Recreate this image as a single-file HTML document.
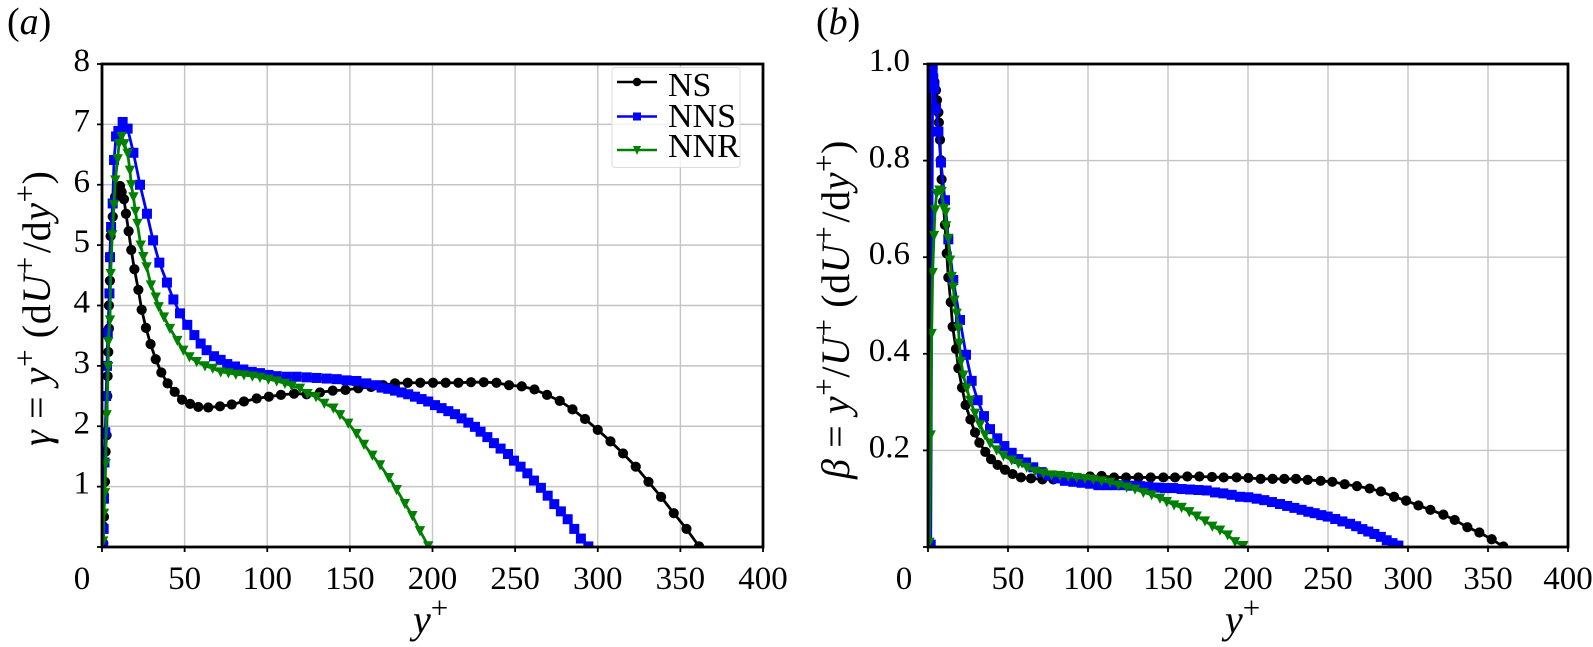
<!DOCTYPE html>
<html lang="en">
<head>
<meta charset="utf-8">
<title>Diagnostic functions gamma and beta versus y+</title>
<style>
html,body{margin:0;padding:0;background:#fff;width:1593px;height:647px;overflow:hidden}
svg{display:block}
text{font-family:"Liberation Serif",serif;fill:#000}
.it{font-style:italic}
</style>
</head>
<body>
<svg id="fig" width="1593" height="647" viewBox="0 0 1593 647" xmlns="http://www.w3.org/2000/svg">
<rect width="1593" height="647" fill="#fff"/>
<defs>
<clipPath id="clipA"><rect x="102" y="64" width="661" height="483"/></clipPath>
<clipPath id="clipB"><rect x="928" y="64" width="640" height="483"/></clipPath>
</defs>
<g id="panelA"></g>
<g id="panelB"></g>

<text x="7" y="34" font-size="38">(<tspan class="it">a</tspan>)</text>
<text x="816" y="34" font-size="38">(<tspan class="it">b</tspan>)</text>

<text transform="translate(50,446) rotate(-90)" font-size="40" letter-spacing="0.6"><tspan class="it">γ</tspan> = <tspan class="it">y</tspan><tspan font-size="31" dy="-15">+</tspan><tspan dy="15"> (d</tspan><tspan class="it">U</tspan><tspan font-size="31" dy="-15">+</tspan><tspan dy="15" dx="3">/d</tspan><tspan class="it">y</tspan><tspan font-size="31" dy="-15">+</tspan><tspan dy="15">)</tspan></text>
<text transform="translate(849,479) rotate(-90)" font-size="40" letter-spacing="0.6"><tspan class="it">β</tspan> = <tspan class="it">y</tspan><tspan font-size="31" dy="-15">+</tspan><tspan dy="15">/</tspan><tspan class="it">U</tspan><tspan font-size="31" dy="-15">+</tspan><tspan dy="15"> (d</tspan><tspan class="it">U</tspan><tspan font-size="31" dy="-15">+</tspan><tspan dy="15" dx="3">/d</tspan><tspan class="it">y</tspan><tspan font-size="31" dy="-15">+</tspan><tspan dy="15">)</tspan></text>
<text x="413" y="633" font-size="40"><tspan class="it">y</tspan><tspan font-size="31" dy="-15">+</tspan></text>
<text x="1225" y="633" font-size="40"><tspan class="it">y</tspan><tspan font-size="31" dy="-15">+</tspan></text>

<g id="legend">
<rect x="612" y="67.5" width="128" height="100" rx="3" fill="#fff" fill-opacity="0.8" stroke="#dcdcdc" stroke-width="1"/>
<g>
<line x1="617" y1="82" x2="657" y2="82" stroke="#000" stroke-width="2.4"/><circle cx="637" cy="82" r="4.2" fill="#000"/>
<text x="668" y="96" font-size="34">NS</text></g>
<g>
<line x1="617" y1="116.5" x2="657" y2="116.5" stroke="#0000ff" stroke-width="2.4"/><rect x="633" y="112.5" width="8" height="8" fill="#0000ff"/>
<text x="668" y="127" font-size="34">NNS</text></g>
<g>
<line x1="617" y1="150" x2="657" y2="150" stroke="#008000" stroke-width="2.4"/><polygon points="633,146 641,146 637,155" fill="#008000"/>
<text x="668" y="157" font-size="34">NNR</text></g>
</g>
</svg>
<script>
// shared axis ticks
const xTicks = [0, 50, 100, 150, 200, 250, 300, 350, 400];
const yTicksA = [1, 2, 3, 4, 5, 6, 7, 8];
const yTicksB = [0.2, 0.4, 0.6, 0.8, 1.0];
const yTickLabelsA = ['1', '2', '3', '4', '5', '6', '7', '8'];
const yTickLabelsB = ['0.2', '0.4', '0.6', '0.8', '1.0'];

// panel (a): gamma
const gammaNSx = [0.8,0.8,1.2,1.2,1.8,2.2,2.8,3.2,3.4,3.8,4.2,4.2,4.8,4.8,5.2,6.5,7.9,9.3,10.9,11.9,13.3,14.5,16.1,17.7,19.6,22,24,26.6,29.4,32.5,35.9,39.7,44,48.4,53.3,58.3,64.3,71.4,78.5,85.9,93.6,101,108.3,116.2,123.8,131.9,139.6,147.3,155.1,162.8,170.2,177.3,185,192.6,200.3,208,215.7,223.3,231,238.7,246.3,254,261.7,269.3,277,284.7,292.3,300,307.7,315.3,323,330.7,338.3,346,353.7,361.3];
const gammaNSy = [0.06,0.34,0.5,0.86,1.08,1.58,1.85,2.5,2.83,3.23,3.62,4.0,4.41,4.81,5.15,5.47,5.8,5.94,5.98,5.88,5.76,5.52,5.23,4.92,4.6,4.26,3.93,3.63,3.36,3.11,2.89,2.71,2.57,2.44,2.37,2.32,2.31,2.33,2.36,2.41,2.46,2.49,2.52,2.54,2.53,2.56,2.59,2.6,2.63,2.65,2.68,2.71,2.72,2.72,2.72,2.72,2.72,2.73,2.73,2.72,2.68,2.66,2.61,2.52,2.42,2.28,2.12,1.94,1.75,1.55,1.33,1.08,0.83,0.56,0.3,0.01];
const gammaNNSx = [0.6,1,1.2,1.5,2,2.5,3,3.5,4.5,4.84,5.5,6.46,7.3,8.5,9.9,12.5,15.5,19,23,27.2,30.9,34.7,39.3,43.2,47.2,51.6,55.9,59.7,63.3,67.8,71.8,75.8,80.5,85.5,90.6,95.6,100.7,105.7,111.8,117.8,123.9,129.9,136,142,148,154,160,166,169.2,173.2,177.3,181.3,185.3,189.4,193.4,197.4,201.5,205.5,209.6,213.6,217.6,221.7,225.7,229.1,233.2,237.2,241.2,245.7,249.3,253.3,257.4,261.4,265.6,269.7,273.7,277.7,281.8,285.8,289.8,294.3];
const gammaNNSy = [0.02,0.3,0.8,1.4,1.9,2.5,3.0,3.55,4.2,4.8,5.3,5.69,6.41,6.8,6.89,7.04,6.93,6.53,6.0,5.52,5.08,4.71,4.38,4.1,3.87,3.68,3.51,3.37,3.26,3.16,3.1,3.03,2.99,2.94,2.9,2.88,2.85,2.83,2.82,2.82,2.81,2.8,2.79,2.78,2.76,2.75,2.71,2.68,2.64,2.62,2.59,2.56,2.53,2.49,2.45,2.41,2.35,2.3,2.25,2.2,2.13,2.06,1.99,1.91,1.82,1.72,1.63,1.54,1.43,1.33,1.22,1.1,0.98,0.85,0.71,0.59,0.46,0.3,0.14,0.01];
const gammaNNRx = [0.7,1.2,1.8,2.2,2.8,3.8,3.8,4.84,5.25,6.2,7.3,8.07,9.5,10.3,11.9,13.5,15.5,16.9,17.7,19,20.2,21.4,23.4,25,27,29.6,32.5,34.3,37.5,41.1,45.6,49.2,52.9,57.3,62.3,67,71.8,76.5,81,85.9,91,95.6,100.7,105.7,110.7,114.8,119.8,124.3,129.5,134.5,140,144,149,154,158.5,163.6,168.2,173.6,178.3,183.3,187.8,192.4,197.4];
const gammaNNRy = [0.1,0.56,0.9,1.38,2.19,2.99,3.4,3.76,4.53,5.17,5.67,6.08,6.43,6.68,6.8,6.68,6.52,6.24,6.0,5.8,5.56,5.36,5.0,4.81,4.64,4.34,4.14,3.98,3.81,3.62,3.42,3.26,3.15,3.07,3.0,2.96,2.9,2.885,2.86,2.85,2.83,2.81,2.78,2.75,2.71,2.67,2.63,2.54,2.49,2.38,2.3,2.19,2.05,1.88,1.7,1.52,1.36,1.15,0.95,0.72,0.52,0.27,0.02];

// panel (b): beta
const betaNSx = [0.5,1.2,2,2.9,4,5,5.6,6.5,6.8,7.5,7.9,8.5,9.4,10.6,11.7,12.7,14.2,15.4,17.5,19,21.25,23.5,26.5,29.4,32.1,35.8,39.4,43.5,48.1,52.9,58.1,64.4,71.5,78.3,86,93.5,101.3,108.5,116.3,123.8,131.5,139.2,147.1,154.4,162.1,169.6,177.5,184.8,192.9,200.2,207.9,215.4,222.7,230,237.3,245.4,252.7,260.4,268.1,276,283.1,291.3,298.8,306.5,314,322.1,329.2,337.1,344.6,352.3,359.6];
const betaNSy = [0.01,1.0,0.998,0.991,0.963,0.946,0.925,0.9,0.879,0.843,0.801,0.761,0.715,0.667,0.608,0.558,0.507,0.456,0.41,0.37,0.33,0.294,0.264,0.237,0.216,0.197,0.182,0.17,0.16,0.151,0.144,0.142,0.14,0.14,0.141,0.142,0.146,0.147,0.144,0.144,0.144,0.144,0.144,0.144,0.146,0.146,0.145,0.144,0.144,0.143,0.141,0.141,0.141,0.141,0.139,0.137,0.135,0.13,0.126,0.121,0.115,0.104,0.096,0.086,0.077,0.067,0.056,0.041,0.03,0.016,0.001];
const betaNNSx = [1.7,2.9,3.3,4,5,6.5,8.1,10.6,12.7,15.8,20,23.75,27.3,31,35,38.75,43.3,47.7,52.3,56.5,61.3,65.8,71,75.2,80.4,85.6,90.8,96,101.3,106.5,111.7,116.9,122.1,127.3,132.5,137.7,142.9,148.1,153.3,158.5,163.8,169,174.2,179.4,184.6,189.8,195,200.2,205.4,210.2,215,220,224.5,229,233.5,237.7,241.7,245.8,249.8,254.5,259,263.8,267.6,271.5,275.2,279,283,286.7,290.3,294];
const betaNNSy = [0.005,0.988,0.97,0.95,0.908,0.86,0.796,0.718,0.637,0.553,0.47,0.398,0.344,0.304,0.271,0.244,0.225,0.209,0.195,0.182,0.175,0.165,0.155,0.148,0.142,0.137,0.135,0.133,0.131,0.128,0.128,0.128,0.128,0.127,0.126,0.125,0.123,0.122,0.122,0.12,0.119,0.118,0.117,0.113,0.111,0.108,0.104,0.103,0.1,0.097,0.093,0.089,0.085,0.081,0.077,0.073,0.07,0.066,0.063,0.058,0.053,0.048,0.043,0.037,0.032,0.027,0.021,0.014,0.008,0.003];
const betaNNRx = [0.9,1.67,2.3,2.9,3.75,4.4,5.4,7.1,8.5,10,11,11.25,12.7,13.75,14.8,15.8,16.5,17.9,19,19.6,20.6,22.1,24.2,26.3,29.4,32.5,35.6,38.8,42.9,47.1,52.3,56.5,61.7,66.9,72.1,77.3,82.5,87.7,92.9,98.1,103.3,108.5,113.8,119,124.2,129.4,134.6,139.8,145,149.2,153.8,158.5,163.3,167.9,173.1,177.7,182.5,187.3,191.9,197.1];
const betaNNRy = [0.01,0.232,0.442,0.568,0.645,0.698,0.732,0.739,0.736,0.701,0.693,0.665,0.639,0.594,0.56,0.538,0.511,0.484,0.453,0.422,0.384,0.356,0.329,0.304,0.277,0.253,0.232,0.215,0.201,0.189,0.18,0.173,0.165,0.157,0.153,0.149,0.148,0.146,0.144,0.142,0.14,0.137,0.134,0.128,0.124,0.12,0.113,0.108,0.101,0.094,0.087,0.082,0.073,0.064,0.054,0.043,0.035,0.025,0.011,0.003];

const NS = 'http://www.w3.org/2000/svg';
function mk(tag, attrs, parent) {
  const el = document.createElementNS(NS, tag);
  for (const k in attrs) el.setAttribute(k, attrs[k]);
  parent.appendChild(el);
  return el;
}
function drawPanel(cfg) {
  const g = document.getElementById(cfg.id);
  const sx = v => cfg.x0 + (v - 0) * (cfg.x1 - cfg.x0) / 400;
  const sy = v => cfg.y0 + (v - 0) * (cfg.yT - cfg.y0) / cfg.yMax;

  // grid
  xTicks.forEach(t => {
    if (t === 0 || t === 400) return;
    const l = mk('line', {x1: sx(t), x2: sx(t), y1: cfg.yT, y2: cfg.y0, stroke: '#c4c4c4', 'stroke-width': 1.4}, g);
    
    
  });
  cfg.yTicks.forEach(t => {
    if (t === cfg.yMax) return;
    const l = mk('line', {x1: cfg.x0, x2: cfg.x1, y1: sy(t), y2: sy(t), stroke: '#c4c4c4', 'stroke-width': 1.4}, g);
    
    
  });

  // series
  const plot = mk('g', {'clip-path': 'url(#' + cfg.clip + ')'}, g);
  
  
  cfg.series.forEach(s => {
    const sg = mk('g', {}, plot);
    
    
    const pts = s.x.map((v, i) => sx(v).toFixed(2) + ',' + sy(s.y[i]).toFixed(2)).join(' ');
    const line = mk('polyline', {points: pts, fill: 'none', stroke: s.color, 'stroke-width': 2.8, 'stroke-linejoin': 'round'}, sg);
    
    
    s.x.forEach((v, i) => {
      const px = sx(v), py = sy(s.y[i]);
      let m;
      if (s.marker === 'circle') {
        m = mk('circle', {cx: px, cy: py, r: 5.1, fill: s.color}, sg);
      } else if (s.marker === 'square') {
        m = mk('rect', {x: px - 5, y: py - 5, width: 10, height: 10, fill: s.color}, sg);
      } else {
        m = mk('polygon', {points: (px - 5.2) + ',' + (py - 4.6) + ' ' + (px + 5.2) + ',' + (py - 4.6) + ' ' + px + ',' + (py + 5.6), fill: s.color}, sg);
      }
      
      
    });
  });

  // frame
  const frame = mk('rect', {x: cfg.x0, y: cfg.yT, width: cfg.x1 - cfg.x0, height: cfg.y0 - cfg.yT, fill: 'none', stroke: '#000', 'stroke-width': 2.8}, g);
  
  

  // x ticks and labels
  xTicks.forEach(t => {
    const tick = mk('line', {x1: sx(t), x2: sx(t), y1: cfg.y0, y2: cfg.y0 + 5, stroke: '#000', 'stroke-width': 1.8}, g);
    
    
    const lx = t === 0 ? cfg.zeroX : sx(t);
    const lab = mk('text', {x: lx, y: 589, 'font-size': 33, 'text-anchor': 'middle'}, g);
    lab.textContent = String(t);
    
    
  });
  // y ticks and labels
  cfg.yTicks.forEach((t, i) => {
    const tick = mk('line', {x1: cfg.x0 - 5, x2: cfg.x0, y1: sy(t), y2: sy(t), stroke: '#000', 'stroke-width': 1.8}, g);
    
    
    const lab = mk('text', {x: cfg.labelX, y: sy(t) + 7, 'font-size': 33, 'text-anchor': 'end'}, g);
    lab.textContent = cfg.yLabels[i];
    
    
  });
  const zeroTick = mk('line', {x1: cfg.x0 - 5, x2: cfg.x0, y1: cfg.y0, y2: cfg.y0, stroke: '#000', 'stroke-width': 1.8}, g);
  
  
}

drawPanel({
  id: 'panelA', clip: 'clipA', x0: 102, x1: 763, y0: 547, yT: 64, yMax: 8,
  zeroX: 82, labelX: 90, yTicks: yTicksA, yLabels: yTickLabelsA,
  series: [
    {name: 'ns', color: '#000', marker: 'circle', x: gammaNSx, y: gammaNSy},
    {name: 'nns', color: '#0000ff', marker: 'square', x: gammaNNSx, y: gammaNNSy},
    {name: 'nnr', color: '#008000', marker: 'tri', x: gammaNNRx, y: gammaNNRy}
  ]
});
drawPanel({
  id: 'panelB', clip: 'clipB', x0: 928, x1: 1568, y0: 547, yT: 64, yMax: 1,
  zeroX: 904, labelX: 910, yTicks: yTicksB, yLabels: yTickLabelsB,
  series: [
    {name: 'ns', color: '#000', marker: 'circle', x: betaNSx, y: betaNSy},
    {name: 'nns', color: '#0000ff', marker: 'square', x: betaNNSx, y: betaNNSy},
    {name: 'nnr', color: '#008000', marker: 'tri', x: betaNNRx, y: betaNNRy}
  ]
});
// keep legend above the plot
const fig = document.getElementById('fig');
fig.appendChild(document.getElementById('legend'));
</script>
</body>
</html>
